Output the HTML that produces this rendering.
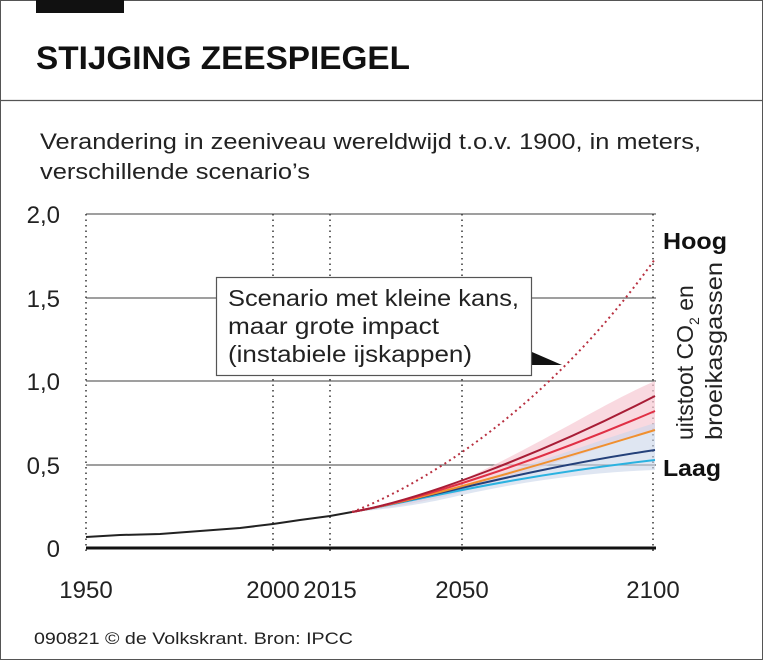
<!DOCTYPE html>
<html><head><meta charset="utf-8"><style>
body{margin:0;background:#fff;}
svg{display:block;font-family:"Liberation Sans",sans-serif;}
</style></head><body>
<svg width="763" height="664" viewBox="0 0 763 664">
<rect x="0.5" y="0.5" width="762" height="659" fill="none" stroke="#555" stroke-width="1"/>
<rect x="36" y="0" width="88" height="13" fill="#111"/>
<text x="36" y="69" font-size="32" font-weight="bold" fill="#111" textLength="374" lengthAdjust="spacingAndGlyphs">STIJGING ZEESPIEGEL</text>
<line x1="0" y1="100.5" x2="763" y2="100.5" stroke="#555" stroke-width="1.2"/>
<text x="40" y="149" font-size="22" fill="#222" textLength="661" lengthAdjust="spacingAndGlyphs">Verandering in zeeniveau wereldwijd t.o.v. 1900, in meters,</text>
<text x="40" y="179" font-size="22" fill="#222" textLength="270" lengthAdjust="spacingAndGlyphs">verschillende scenario’s</text>
<g stroke="#666" stroke-width="1.2">
<line x1="86" y1="214" x2="656" y2="214"/>
<line x1="86" y1="298" x2="656" y2="298"/>
<line x1="86" y1="381" x2="656" y2="381"/>
<line x1="86" y1="465" x2="656" y2="465"/>
</g>
<g stroke="#333" stroke-width="1.5" stroke-dasharray="1.5,4">
<line x1="86" y1="214" x2="86" y2="555"/>
<line x1="273" y1="214" x2="273" y2="555"/>
<line x1="330" y1="214" x2="330" y2="555"/>
<line x1="462" y1="214" x2="462" y2="555"/>
<line x1="653" y1="214" x2="653" y2="555"/>
</g>
<line x1="86" y1="548" x2="656" y2="548" stroke="#111" stroke-width="3"/>
<g font-size="24" fill="#222">
<text x="60" y="223" text-anchor="end">2,0</text>
<text x="60" y="307" text-anchor="end">1,5</text>
<text x="60" y="390" text-anchor="end">1,0</text>
<text x="60" y="474" text-anchor="end">0,5</text>
<text x="60" y="557" text-anchor="end">0</text>
<text x="86" y="598" text-anchor="middle">1950</text>
<text x="273" y="598" text-anchor="middle">2000</text>
<text x="330" y="598" text-anchor="middle">2015</text>
<text x="462" y="598" text-anchor="middle">2050</text>
<text x="653" y="598" text-anchor="middle">2100</text>
</g>
<path d="M352,512 C420,500 450,485 462,480 C540,445 600,405 655,381 L655,430 C600,448 540,468 462,492 C420,503 390,508 352,512Z" fill="#f6c9d3" opacity="0.7"/>
<path d="M352,512 C420,502 450,490 462,486 C540,462 600,440 655,423 L655,470 C600,472 540,478 462,495 C420,505 390,509 352,512Z" fill="#c9d6ea" opacity="0.6"/>
<path d="M86,537 L120,535 L160,534 L200,531 L240,528 L273,524 L300,520 L330,516 L352,512" fill="none" stroke="#222" stroke-width="2"/>
<path d="M352,512 C420,500 500,478 655,460" fill="none" stroke="#2bb2e0" stroke-width="2"/>
<path d="M352,512 C420,500 520,470 655,450" fill="none" stroke="#24407a" stroke-width="2"/>
<path d="M352,512 C420,500 540,465 655,430" fill="none" stroke="#f0902f" stroke-width="2"/>
<path d="M352,512 C420,500 540,460 655,411" fill="none" stroke="#e03045" stroke-width="2"/>
<path d="M352,512 C420,500 540,455 655,396" fill="none" stroke="#a81d36" stroke-width="2"/>
<path d="M352,512 C410,490 540,420 655,259" fill="none" stroke="#b83040" stroke-width="2" stroke-dasharray="2,3.5"/>
<polygon points="532,352 532,365 562,365" fill="#111"/>
<rect x="216.5" y="277.5" width="315" height="98" fill="#fff" stroke="#555" stroke-width="1.2"/>
<g font-size="23" fill="#222">
<text x="228" y="306" textLength="291" lengthAdjust="spacingAndGlyphs">Scenario met kleine kans,</text>
<text x="228" y="334" textLength="211" lengthAdjust="spacingAndGlyphs">maar grote impact</text>
<text x="228" y="362" textLength="244" lengthAdjust="spacingAndGlyphs">(instabiele ijskappen)</text>
</g>
<text x="663" y="249" font-size="23" font-weight="bold" fill="#111" textLength="64" lengthAdjust="spacingAndGlyphs">Hoog</text>
<text x="663" y="476" font-size="23" font-weight="bold" fill="#111" textLength="58" lengthAdjust="spacingAndGlyphs">Laag</text>
<g font-size="23" fill="#222">
<text transform="translate(693,440) rotate(-90)">uitstoot CO<tspan font-size="14" dy="6">2</tspan><tspan dy="-6"> en</tspan></text>
<text transform="translate(722,440) rotate(-90)" textLength="178" lengthAdjust="spacingAndGlyphs">broeikasgassen</text>
</g>
<text x="34" y="644" font-size="17" fill="#222" textLength="319" lengthAdjust="spacingAndGlyphs">090821 © de Volkskrant. Bron: IPCC</text>
</svg>
</body></html>
